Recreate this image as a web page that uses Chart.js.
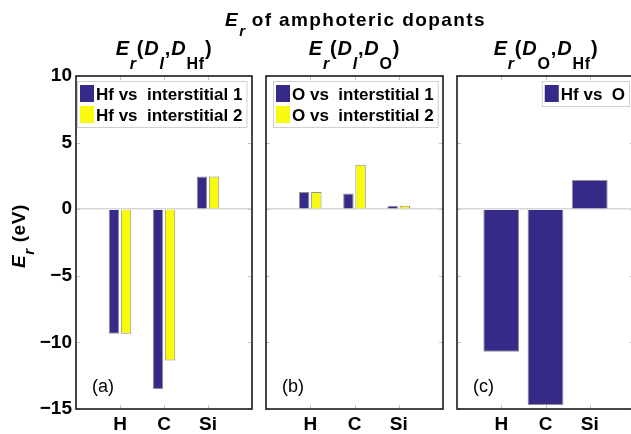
<!DOCTYPE html>
<html>
<head>
<meta charset="utf-8">
<script src="https://cdn.jsdelivr.net/npm/chart.js@4/dist/chart.umd.min.js"></script>
<style>
  html, body { margin: 0; padding: 0; background: #ffffff; }
  #fig { position: relative; width: 631px; height: 434px; overflow: hidden; background: #fff;
         font-family: "Liberation Sans", Arial, Helvetica, sans-serif; color: #000; }
  #fig canvas { position: absolute; top: 0; }
  .txt { position: absolute; white-space: nowrap; font-weight: bold; text-align: center; }
  .txt sub { line-height: 0; position: relative; vertical-align: baseline; }
  #mainTitle { left: 155.5px; width: 400px; top: 9.8px; font-size: 19px; line-height: 19px; letter-spacing: 1.4px; }
  #mainTitle sub { font-size: 15px; top: 10px; letter-spacing: 0; }
  .sub { top: 38px; width: 200px; font-size: 20px; line-height: 20px; letter-spacing: 0.8px; }
  .sub sub { font-size: 16px; top: 14px; }
  #yLabel { left: 18.7px; top: 236px; width: 120px; height: 20px; line-height: 20px; font-size: 19px;
            transform: translate(-60px, -10px) rotate(-90deg); letter-spacing: 0.6px; }
  #yLabel sub { font-size: 15px; top: 9px; }
</style>
</head>
<body>
<div id="fig">
  <canvas id="panelA" width="262" height="434" style="left:0px"></canvas>
  <canvas id="panelB" width="200" height="434" style="left:258px"></canvas>
  <canvas id="panelC" width="200" height="434" style="left:449px"></canvas>
  <div class="txt" id="mainTitle"><i>E</i><sub><i>r</i></sub> of amphoteric dopants</div>
  <div class="txt sub" style="left:64px"><i>E</i><sub><i>r</i></sub>(<i>D</i><sub><i>I</i></sub>,<i>D</i><sub>Hf</sub>)</div>
  <div class="txt sub" style="left:254.5px"><i>E</i><sub><i>r</i></sub>(<i>D</i><sub><i>I</i></sub>,<i>D</i><sub>O</sub>)</div>
  <div class="txt sub" style="left:446px"><i>E</i><sub><i>r</i></sub>(<i>D</i><sub>O</sub>,<i>D</i><sub>Hf</sub>)</div>
  <div class="txt" id="yLabel"><i>E</i><sub><i>r</i></sub> (eV)</div>
</div>
<script>
// Dopant species along the x axis
const elements = ['H', 'C', 'Si'];

// Energy differences (eV)
const hfVsInterstitial1 = [-9.35, -13.5, 2.45];
const hfVsInterstitial2 = [-9.35, -11.35, 2.45];
const oVsInterstitial1 = [1.3, 1.18, 0.25];
const oVsInterstitial2 = [1.3, 3.33, 0.25];
const hfVsO = [-10.7, -14.7, 2.2];

// Series labels
const legendA = ['Hf vs  interstitial 1', 'Hf vs  interstitial 2'];
const legendB = ['O vs  interstitial 1', 'O vs  interstitial 2'];
const legendC = ['Hf vs  O'];

// Value axis range and tick step
const yMin = -15, yMax = 10, yStep = 5;

const BLUE = '#352a87';
const YELLOW = '#f9fb0e';
const EDGE = 'rgba(125,125,125,0.85)';
const FONT = '"Liberation Sans", Arial, Helvetica, sans-serif';

function points(values) {
  return values.map((v, i) => ({ x: i + 1, y: v }));
}

// Frame, inward tick marks, boxed legend and panel letter
const panelDecor = {
  id: 'panelDecor',
  afterDraw(chart, args, opts) {
    const ctx = chart.ctx;
    const ca = chart.chartArea;
    const xs = chart.scales.x, ys = chart.scales.y;
    ctx.save();
    // inward tick marks
    ctx.strokeStyle = '#c4c4c4';
    ctx.lineWidth = 1;
    ctx.beginPath();
    ys.ticks.forEach(t => {
      const py = Math.round(ys.getPixelForValue(t.value)) + 0.5;
      ctx.moveTo(ca.left, py); ctx.lineTo(ca.left + 4, py);
      ctx.moveTo(ca.right, py); ctx.lineTo(ca.right - 4, py);
    });
    elements.forEach((e, i) => {
      const px = Math.round(xs.getPixelForValue(i + 1)) + 0.5;
      ctx.moveTo(px, ca.bottom); ctx.lineTo(px, ca.bottom - 4);
      ctx.moveTo(px, ca.top); ctx.lineTo(px, ca.top + 4);
    });
    ctx.stroke();
    // axes box
    ctx.strokeStyle = '#1a1a1a';
    ctx.lineWidth = 1.6;
    ctx.strokeRect(ca.left, ca.top, ca.right - ca.left, ca.bottom - ca.top);
    // legend box
    const ds = chart.data.datasets;
    ctx.font = 'bold 17px ' + FONT;
    let tw = 0;
    ds.forEach(d => { tw = Math.max(tw, ctx.measureText(d.label).width); });
    const rowH = 21;
    const w = 3 + 14 + 2 + tw + 4;
    const h = ds.length * rowH + 4;
    const bx = opts.align === 'left' ? ca.left + opts.inset : ca.right - opts.inset - w;
    const by = ca.top + 5;
    ctx.fillStyle = '#ffffff';
    ctx.fillRect(bx, by, w, h);
    ctx.strokeStyle = '#cfcfcf';
    ctx.lineWidth = 1;
    ctx.strokeRect(bx + 0.5, by + 0.5, w, h);
    ds.forEach((d, i) => {
      const ry = by + 2 + i * rowH;
      ctx.fillStyle = d.backgroundColor;
      ctx.fillRect(bx + 3, ry + 2, 14, 17);
      ctx.fillStyle = '#000';
      ctx.textBaseline = 'alphabetic';
      ctx.textAlign = 'left';
      ctx.fillText(d.label, bx + 19, ry + 17);
    });
    // panel letter
    ctx.font = '18px ' + FONT;
    ctx.fillStyle = '#000';
    ctx.fillText(opts.letter, ca.left + 16, ca.bottom - 17);
    ctx.restore();
  }
};

function makePanel(id, series, labels, colors, opt) {
  const datasets = series.map((vals, i) => ({
    label: labels[i],
    data: points(vals),
    backgroundColor: colors[i],
    borderColor: EDGE,
    borderWidth: 1,
    categoryPercentage: opt.catPct,
    barPercentage: opt.barPct
  }));
  return new Chart(document.getElementById(id), {
    type: 'bar',
    data: { datasets },
    plugins: [panelDecor],
    options: {
      responsive: false,
      animation: false,
      events: [],
      layout: { padding: { top: 76, right: opt.padRight, left: 0, bottom: 0 } },
      plugins: {
        legend: { display: false },
        tooltip: { enabled: false },
        panelDecor: { align: opt.legendAlign, inset: opt.legendInset, letter: opt.letter }
      },
      scales: {
        x: {
          type: 'linear',
          offset: false,
          min: 0, max: elements.length + 1,
          afterFit: s => { s.height = 25; },
          grid: { display: false, drawTicks: false },
          border: { display: false },
          ticks: {
            stepSize: 1,
            autoSkip: false,
            maxRotation: 0,
            padding: 4,
            color: '#000',
            font: { family: FONT, size: 19, weight: 'bold' },
            callback: v => elements[v - 1] || ''
          }
        },
        y: {
          min: yMin, max: yMax,
          afterFit: s => { s.width = opt.yWidth; },
          grid: {
            drawTicks: false,
            lineWidth: 1.5,
            color: c => (c.tick && c.tick.value === 0) ? '#d8d8d8' : 'rgba(0,0,0,0)'
          },
          border: { display: false },
          ticks: {
            display: opt.showY,
            stepSize: yStep,
            padding: 4,
            color: '#000',
            font: { family: FONT, size: 19, weight: 'bold' },
            callback: v => (v < 0 ? '\u2212' + Math.abs(v) : String(v))
          }
        }
      }
    }
  });
}

makePanel('panelA', [hfVsInterstitial1, hfVsInterstitial2], legendA, [BLUE, YELLOW],
  { catPct: 0.55, barPct: 0.86, padRight: 10, yWidth: 76, showY: true, legendAlign: 'left', legendInset: 1, letter: '(a)' });
makePanel('panelB', [oVsInterstitial1, oVsInterstitial2], legendB, [BLUE, YELLOW],
  { catPct: 0.55, barPct: 0.86, padRight: 15, yWidth: 8, showY: false, legendAlign: 'left', legendInset: 7, letter: '(b)' });
makePanel('panelC', [hfVsO], legendC, [BLUE],
  { catPct: 0.9, barPct: 0.9, padRight: 15, yWidth: 8, showY: false, legendAlign: 'right', legendInset: 5, letter: '(c)' });
</script>
</body>
</html>
